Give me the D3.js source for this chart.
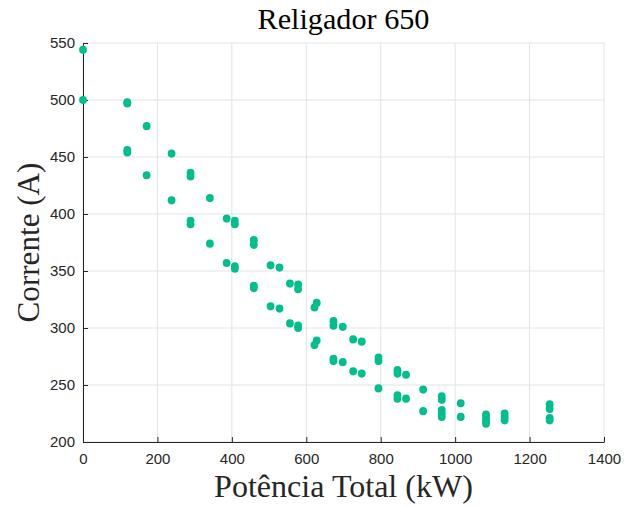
<!DOCTYPE html>
<html>
<head>
<meta charset="utf-8">
<script src="https://cdn.jsdelivr.net/npm/d3@7"></script>
<style>
  body { margin: 0; background: #fff; }
  svg { display: block; }
</style>
</head>
<body>
<div id="chart"></div>
<script>
// Data (power in kW, current in A)
const potencia = [
  0, 0,
  119, 119, 119, 119,
  171, 171,
  238, 238,
  289, 289, 289, 289,
  341, 341,
  386, 386,
  408, 408, 408, 408,
  459, 459, 459, 459,
  504, 504,
  528, 528,
  556, 556,
  578, 578, 578, 578,
  622, 628, 622, 628,
  673, 673, 673, 673,
  698, 698,
  726, 726,
  749, 749,
  794, 794, 794,
  845, 845, 845, 845,
  868, 868,
  914, 914,
  964, 964, 964, 964, 964,
  1015, 1015,
  1083, 1083, 1083, 1083,
  1133, 1133, 1133,
  1254, 1254, 1254, 1254
]
const corrente = [
  544, 500,
  498, 497, 456, 454,
  477, 434,
  453, 412,
  436, 433, 394, 391,
  414, 374,
  396, 357,
  394, 391, 354, 352,
  377, 373, 337, 335,
  355, 319,
  353, 317,
  339, 304,
  338, 334, 302, 300,
  318, 322, 285, 289,
  306, 302, 273, 271,
  301, 270,
  290, 262,
  288, 260,
  274, 271, 247,
  263, 260, 241, 238,
  259, 238,
  246, 227,
  240, 237, 228, 225, 222,
  234, 222,
  224, 221, 218, 216,
  225, 222, 219,
  233, 229, 221, 219
]
const xTicks = [0, 200, 400, 600, 800, 1000, 1200, 1400]
const yTicks = [200, 250, 300, 350, 400, 450, 500, 550]

const titulo = 'Religador 650'
const rotuloX = 'Potência Total (kW)'
const rotuloY = 'Corrente (A)'

const width = 624
const height = 506
const margin = { top: 43, right: 20, bottom: 64, left: 83 }
const innerW = width - margin.left - margin.right
const innerH = height - margin.top - margin.bottom

const axisColor = '#262626'
const gridColor = '#e3e3e3'
const dotColor = '#00bf8c'
const serif = '"Liberation Serif", "DejaVu Serif", serif'
const sans = '"Liberation Sans", Arial, sans-serif'

let svg = d3.select('#chart').append('svg')
  .attr('width', width)
  .attr('height', height)

let g = svg.append('g')
  .attr('transform', `translate(${margin.left},${margin.top})`)

let x = d3.scaleLinear().domain([0, 1400]).range([0, innerW])
let y = d3.scaleLinear().domain([200, 550]).range([innerH, 0])

// Grid
g.append('g')
  .selectAll('line')
  .data(xTicks)
  .join('line')
  .attr('x1', d => x(d)).attr('x2', d => x(d))
  .attr('y1', 0).attr('y2', innerH)
  .attr('stroke', gridColor)

g.append('g')
  .selectAll('line')
  .data(yTicks)
  .join('line')
  .attr('x1', 0).attr('x2', innerW)
  .attr('y1', d => y(d)).attr('y2', d => y(d))
  .attr('stroke', gridColor)

// Axes, ticks pointing inward like MATLAB
let xAxis = g.append('g')
  .attr('transform', `translate(0,${innerH})`)
  .call(d3.axisBottom(x).tickValues(xTicks).tickFormat(d3.format('d'))
    .tickSizeInner(-5).tickSizeOuter(0).tickPadding(11))

let yAxis = g.append('g')
  .call(d3.axisLeft(y).tickValues(yTicks).tickFormat(d3.format('d'))
    .tickSizeInner(-5).tickSizeOuter(0).tickPadding(8))

;[xAxis, yAxis].forEach(a => {
  a.select('.domain').attr('stroke', axisColor)
  a.selectAll('.tick line').attr('stroke', axisColor)
  a.selectAll('.tick text')
    .attr('fill', axisColor)
    .style('font-family', sans)
    .style('font-size', '15px')
})

// Points
const pts = potencia.map((p, i) => ({ p: p, c: corrente[i] }))
g.append('g')
  .selectAll('ellipse')
  .data(pts)
  .join('ellipse')
  .attr('cx', d => x(d.p))
  .attr('cy', d => y(d.c))
  .attr('rx', 3.9)
  .attr('ry', 4.1)
  .attr('fill', dotColor)

// Fit serif labels to the width they take in the reference
function fitText (sel, target) {
  let w = sel.node().getComputedTextLength()
  let fs = parseFloat(sel.style('font-size'))
  sel.style('font-size', (fs * target / w) + 'px')
}

let t = svg.append('text')
  .attr('x', margin.left + innerW / 2)
  .attr('y', 29)
  .attr('text-anchor', 'middle')
  .style('font-family', serif)
  .style('font-size', '24px')
  .attr('fill', '#000')
  .text(titulo)
fitText(t, 172)

let xl = svg.append('text')
  .attr('x', margin.left + innerW / 2)
  .attr('y', 497)
  .attr('text-anchor', 'middle')
  .style('font-family', serif)
  .style('font-size', '24px')
  .attr('fill', '#262626')
  .text(rotuloX)
fitText(xl, 259)

let yl = svg.append('text')
  .attr('transform', `translate(39,${margin.top + innerH / 2}) rotate(-90)`)
  .attr('text-anchor', 'middle')
  .style('font-family', serif)
  .style('font-size', '24px')
  .attr('fill', '#262626')
  .text(rotuloY)
fitText(yl, 160)
</script>
</body>
</html>
